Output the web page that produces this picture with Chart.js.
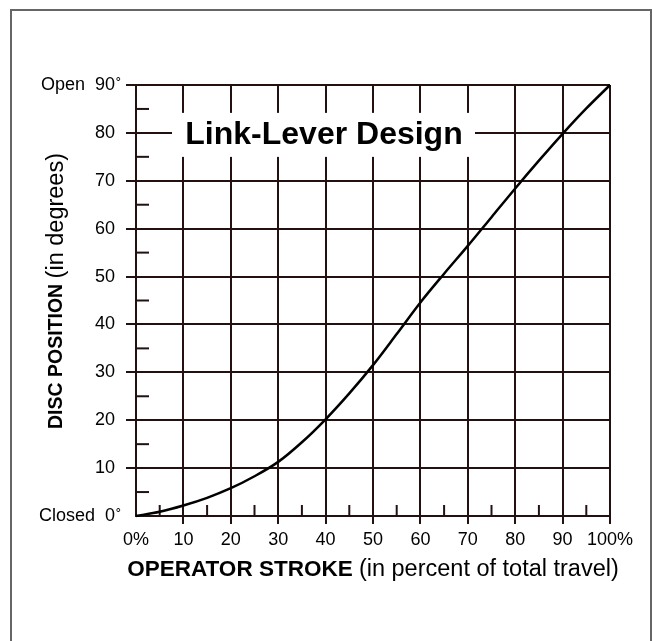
<!DOCTYPE html>
<html>
<head>
<meta charset="utf-8">
<script src="https://cdn.jsdelivr.net/npm/chart.js@4/dist/chart.umd.min.js"></script>
<style>
  body { margin: 0; background: #fff; }
  #frame { position: absolute; left: 10px; top: 9px; width: 638px; height: 660px; border: 2px solid #666; }
  #wrap { position: absolute; left: 0; top: 0; width: 652px; height: 641px; }
</style>
</head>
<body>
<div id="frame"></div>
<div id="wrap"><canvas id="chart" width="652" height="641"></canvas></div>
<script>
// operator stroke (% of travel) and disc position (degrees)
const stroke = [0, 5, 10, 15, 20, 25, 30, 35, 40, 45, 50, 55, 60, 65, 70, 75, 80, 85, 90, 95, 100];
const disc   = [0, 0.9, 2.2, 3.8, 5.8, 8.3, 11.3, 15.4, 20.2, 25.6, 31.5, 38.0, 44.6, 50.6, 56.4, 62.4, 68.4, 74.2, 79.8, 85.1, 90];

const xTickLabels = { 0: '0%', 100: '100%' };
const yTickLabels = { 0: 'Closed  0', 90: 'Open  90' };

const gridColor = '#231010';
const fontFamily = '"Liberation Sans", Arial, sans-serif';

// short inside ticks at the 5s, chart title box, degree marks and the mixed-weight axis titles
const decorPlugin = {
    id: 'decor',
    beforeDatasetsDraw(chart) {
        const ctx = chart.ctx;
        const area = chart.chartArea;
        const xs = chart.scales.x, ys = chart.scales.y;
        ctx.save();
        ctx.strokeStyle = gridColor;
        ctx.lineWidth = 2;
        for (let v = 5; v < 90; v += 10) {
            const py = ys.getPixelForValue(v);
            ctx.beginPath();
            ctx.moveTo(area.left, py);
            ctx.lineTo(area.left + 13, py);
            ctx.stroke();
        }
        for (let v = 5; v < 100; v += 10) {
            const px = xs.getPixelForValue(v);
            ctx.beginPath();
            ctx.moveTo(px, area.bottom);
            ctx.lineTo(px, area.bottom - 11);
            ctx.stroke();
        }
        // title box sitting on the 80 line
        const cy = ys.getPixelForValue(80);
        ctx.fillStyle = '#fff';
        ctx.fillRect(area.left + 36, cy - 20, 303, 44);
        ctx.fillStyle = '#000';
        ctx.font = 'bold 32px ' + fontFamily;
        ctx.textAlign = 'center';
        ctx.textBaseline = 'alphabetic';
        ctx.fillText('Link-Lever Design', area.left + 188, cy + 11);
        ctx.restore();
    },
    afterDraw(chart) {
        const ctx = chart.ctx;
        const area = chart.chartArea;
        const ys = chart.scales.y;
        ctx.save();
        ctx.fillStyle = '#000';

        // degree rings after the end labels
        ctx.font = '16px ' + fontFamily;
        ctx.textAlign = 'left';
        ctx.textBaseline = 'alphabetic';
        [0, 90].forEach((v) => {
            ctx.fillText('˚', 116, ys.getPixelForValue(v) + 5);
        });

        ctx.textBaseline = 'middle';

        // x title
        const boldX = 'OPERATOR STROKE ';
        const regX = '(in percent of total travel)';
        ctx.font = 'bold 22.5px ' + fontFamily;
        const bw = ctx.measureText(boldX).width;
        ctx.font = '23.5px ' + fontFamily;
        const rw = ctx.measureText(regX).width;
        const x0 = (area.left + area.right) / 2 - (bw + rw) / 2;
        ctx.font = 'bold 22.5px ' + fontFamily;
        ctx.fillText(boldX, x0, 570);
        ctx.font = '23.5px ' + fontFamily;
        ctx.fillText(regX, x0 + bw, 570);

        // y title
        const boldY = 'DISC POSITION ';
        const regY = '(in degrees)';
        ctx.translate(57, 291);
        ctx.rotate(-Math.PI / 2);
        ctx.font = 'bold 19.5px ' + fontFamily;
        const bw2 = ctx.measureText(boldY).width;
        ctx.font = '23.5px ' + fontFamily;
        const rw2 = ctx.measureText(regY).width;
        const s = -(bw2 + rw2) / 2;
        ctx.font = 'bold 19.5px ' + fontFamily;
        ctx.fillText(boldY, s, 0);
        ctx.font = '23.5px ' + fontFamily;
        ctx.fillText(regY, s + bw2, 0);
        ctx.restore();
    }
};

document.addEventListener('DOMContentLoaded', function() {
    const ctx = document.getElementById('chart');

    new Chart(ctx, {
        type: 'line',
        data: {
            datasets: [{
                data: stroke.map((s, i) => ({ x: s, y: disc[i] })),
                borderColor: '#000',
                borderWidth: 2.5,
                pointRadius: 0,
                cubicInterpolationMode: 'monotone',
                fill: false,
                clip: false
            }]
        },
        options: {
            responsive: false,
            animation: false,
            events: [],
            layout: { padding: { left: 0, top: 85, right: 42, bottom: 0 } },
            plugins: {
                legend: { display: false },
                tooltip: { enabled: false },
                title: { display: false }
            },
            scales: {
                x: {
                    type: 'linear',
                    min: 0,
                    max: 100,
                    afterFit: (scale) => { scale.height = 125; },
                    ticks: {
                        stepSize: 10,
                        autoSkip: false,
                        color: '#000',
                        padding: 5,
                        maxRotation: 0,
                        font: { family: fontFamily, size: 18 },
                        callback: (v) => xTickLabels[v] || String(v)
                    },
                    grid: {
                        color: gridColor,
                        lineWidth: 2,
                        tickLength: 8,
                        tickColor: (c) => c.tick && c.tick.value === 0 ? 'rgba(0,0,0,0)' : gridColor
                    },
                    border: { color: gridColor, width: 2 }
                },
                y: {
                    type: 'linear',
                    min: 0,
                    max: 90,
                    afterFit: (scale) => { scale.width = 136; },
                    ticks: {
                        stepSize: 10,
                        autoSkip: false,
                        color: '#000',
                        padding: 11,
                        font: { family: fontFamily, size: 18 },
                        callback: (v) => yTickLabels[v] || String(v)
                    },
                    grid: {
                        color: gridColor,
                        lineWidth: 2,
                        tickLength: 10,
                        tickColor: (c) => c.tick && c.tick.value === 0 ? 'rgba(0,0,0,0)' : gridColor
                    },
                    border: { color: gridColor, width: 2 }
                }
            }
        },
        plugins: [decorPlugin]
    });
});
</script>
</body>
</html>
